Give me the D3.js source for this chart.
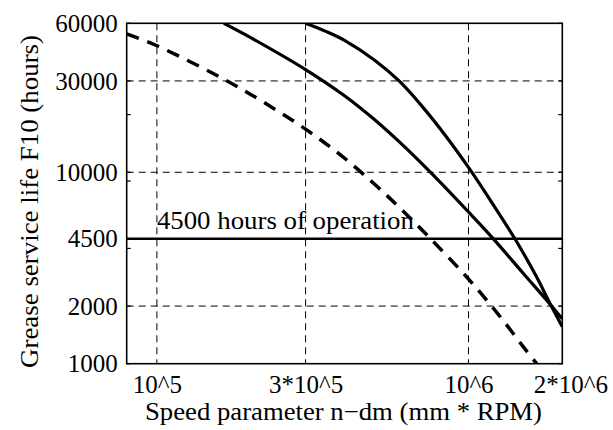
<!DOCTYPE html>
<html>
<head>
<meta charset="utf-8">
<script src="https://cdn.jsdelivr.net/npm/d3@7.9.0/dist/d3.min.js"></script>
<style>
  html, body { margin: 0; padding: 0; background: #fff; }
  svg text { font-family: "Liberation Serif", "Times New Roman", serif; fill: #000; }
</style>
</head>
<body>
<svg id="chart" width="613" height="430"></svg>
<script>
// =========================================
// DATA
// =========================================
const xTicks = [1e5, 3e5, 1e6, 2e6];
const xTickLabels = ["10^5", "3*10^5", "10^6", "2*10^6"];
const yTicks = [1000, 2000, 4500, 10000, 30000, 60000];
const yMinorTicks = [4000, 9000, 20000];
const xGrid = [1e5, 3e5, 1e6];
const yGrid = [2000, 10000, 30000];
const operationHours = 4500;

// dashed curve
const speedDashed = [80000, 100000, 150000, 200000, 300000, 400000, 500000, 600000, 750000, 1000000, 1250000, 1500000, 1655000];
const lifeDashed  = [52900, 45800, 33100, 25500, 16800, 11850, 8650, 6550, 4550, 2770, 1800, 1225, 1000];

// lower solid curve
const speedLower = [164000, 200000, 300000, 400000, 500000, 600000, 750000, 1000000, 1200000, 1500000, 1830000, 2000000];
const lifeLower  = [60000, 50500, 34400, 25100, 18800, 14400, 10100, 6200, 4500, 2960, 2040, 1715];

// upper solid curve
const speedUpper = [300000, 350000, 400000, 500000, 600000, 700000, 850000, 1000000, 1200000, 1420000, 1650000, 1830000, 2000000];
const lifeUpper  = [60000, 54300, 48900, 38500, 29900, 22700, 15300, 10600, 6780, 4400, 2860, 2050, 1560];

// =========================================
// SCALES
// =========================================
const plotLeft = 126.7, plotRight = 562.3, plotTop = 23.3, plotBottom = 363.7;

const x = d3.scaleLog().domain([80000, 2000000]).range([plotLeft, plotRight]);
const y = d3.scaleLog().domain([1000, 60000]).range([plotBottom, plotTop]);

const svg = d3.select("#chart");

svg.append("defs").append("clipPath")
    .attr("id", "plot-clip")
    .append("rect")
    .attr("x", plotLeft)
    .attr("y", plotTop)
    .attr("width", plotRight - plotLeft)
    .attr("height", plotBottom - plotTop);

// =========================================
// GRID
// =========================================
svg.append("g")
    .selectAll("line")
    .data(xGrid)
    .join("line")
    .attr("x1", d => x(d))
    .attr("x2", d => x(d))
    .attr("y1", plotTop)
    .attr("y2", plotBottom)
    .attr("stroke", "#000")
    .attr("stroke-width", 1)
    .attr("stroke-dasharray", "7 5");

svg.append("g")
    .selectAll("line")
    .data(yGrid)
    .join("line")
    .attr("x1", plotLeft)
    .attr("x2", plotRight)
    .attr("y1", d => y(d))
    .attr("y2", d => y(d))
    .attr("stroke", "#000")
    .attr("stroke-width", 1)
    .attr("stroke-dasharray", "7 5");

// =========================================
// AXES
// =========================================
const xAxis = svg.append("g")
    .attr("transform", `translate(0,${plotBottom})`)
    .call(d3.axisBottom(x)
        .tickValues(xTicks)
        .tickFormat((d, i) => xTickLabels[i])
        .tickSize(0)
        .tickPadding(0));
xAxis.select(".domain").remove();
xAxis.selectAll("text")
    .attr("y", 29)
    .attr("dy", 0)
    .style("font-size", "25px")
    .attr("dx", (d, i) => i === xTicks.length - 1 ? 8 : 0);

const yAxis = svg.append("g")
    .attr("transform", `translate(${plotLeft},0)`)
    .call(d3.axisLeft(y)
        .tickValues(yTicks)
        .tickFormat(d3.format("d"))
        .tickSize(0)
        .tickPadding(9));
yAxis.select(".domain").remove();
yAxis.selectAll("text")
    .attr("dy", "0.33em")
    .style("font-size", "25px");

// small inward ticks on both sides
const allYTicks = yTicks.concat(yMinorTicks);
svg.append("g")
    .selectAll("line")
    .data(allYTicks.flatMap(v => [{ v, x0: plotLeft, x1: plotLeft + 4 }, { v, x0: plotRight, x1: plotRight - 4 }]))
    .join("line")
    .attr("x1", d => d.x0)
    .attr("x2", d => d.x1)
    .attr("y1", d => y(d.v))
    .attr("y2", d => y(d.v))
    .attr("stroke", "#000")
    .attr("stroke-width", 1.2);

// =========================================
// CURVES
// =========================================
const line = d3.line()
    .x(d => x(d[0]))
    .y(d => y(d[1]))
    .curve(d3.curveCatmullRom);

const plot = svg.append("g").attr("clip-path", "url(#plot-clip)");

plot.append("line")
    .attr("x1", plotLeft)
    .attr("x2", plotRight)
    .attr("y1", y(operationHours))
    .attr("y2", y(operationHours))
    .attr("stroke", "#000")
    .attr("stroke-width", 2.5);

plot.append("path")
    .datum(d3.zip(speedDashed, lifeDashed))
    .attr("fill", "none")
    .attr("stroke", "#000")
    .attr("stroke-width", 3.5)
    .attr("stroke-dasharray", "13 9")
    .attr("d", line);

plot.append("path")
    .datum(d3.zip(speedLower, lifeLower))
    .attr("fill", "none")
    .attr("stroke", "#000")
    .attr("stroke-width", 3.2)
    .attr("d", line);

plot.append("path")
    .datum(d3.zip(speedUpper, lifeUpper))
    .attr("fill", "none")
    .attr("stroke", "#000")
    .attr("stroke-width", 3.2)
    .attr("d", line);

// frame
svg.append("rect")
    .attr("x", plotLeft)
    .attr("y", plotTop)
    .attr("width", plotRight - plotLeft)
    .attr("height", plotBottom - plotTop)
    .attr("fill", "none")
    .attr("stroke", "#000")
    .attr("stroke-width", 1.6);

// =========================================
// TEXT
// =========================================
svg.append("text")
    .attr("x", x(1e5))
    .attr("y", y(operationHours) - 10)
    .attr("textLength", 257)
    .attr("lengthAdjust", "spacingAndGlyphs")
    .style("font-size", "25px")
    .text("4500 hours of operation");

svg.append("text")
    .attr("x", (plotLeft + plotRight) / 2 - 1)
    .attr("y", 420)
    .attr("text-anchor", "middle")
    .attr("textLength", 397)
    .attr("lengthAdjust", "spacingAndGlyphs")
    .style("font-size", "25px")
    .text("Speed parameter n\u2212dm (mm * RPM)");

svg.append("text")
    .attr("transform", `translate(38,${(plotTop + plotBottom) / 2 + 8}) rotate(-90)`)
    .attr("text-anchor", "middle")
    .attr("textLength", 333)
    .attr("lengthAdjust", "spacingAndGlyphs")
    .style("font-size", "25px")
    .text("Grease service life F10 (hours)");
</script>
</body>
</html>
